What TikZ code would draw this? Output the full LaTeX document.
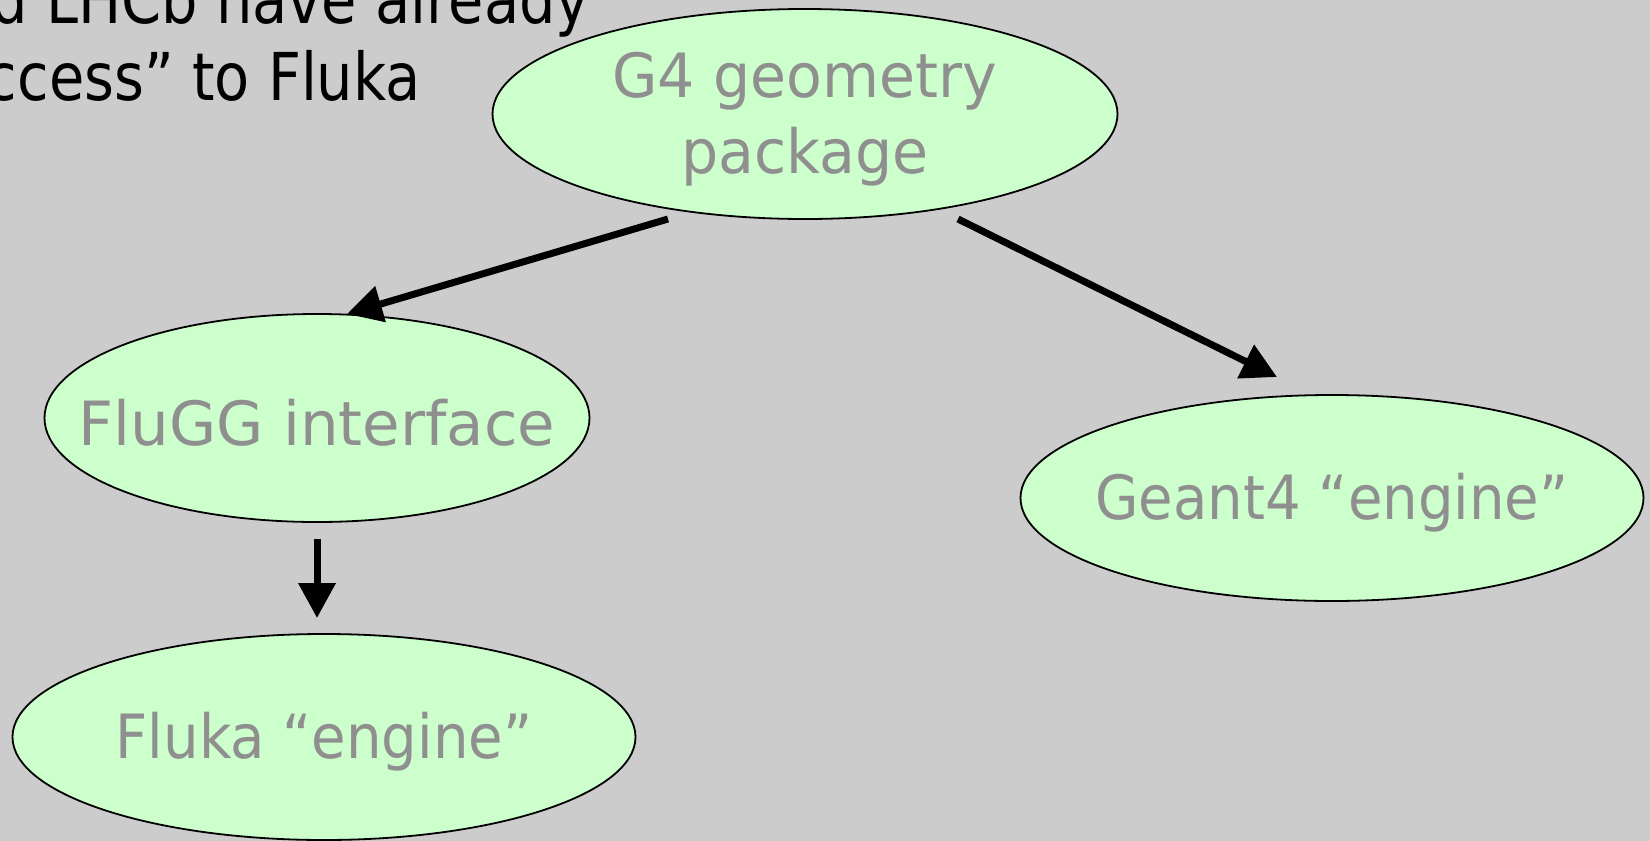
\documentclass[tikz,border=0pt]{standalone}
\usepackage{fontspec}
\setmainfont{DejaVu Sans}
\usetikzlibrary{arrows.meta,shapes.geometric}
\definecolor{bg}{HTML}{CCCCCC}
\definecolor{ell}{HTML}{CCFFCC}
\definecolor{txt}{HTML}{8F8F8F}
\begin{document}
\begin{tikzpicture}[x=1pt,y=-1pt,
  blob/.style={ellipse, draw=black, line width=1.8pt, fill=ell, inner sep=0pt},
  lbl/.style={text=txt, font=\fontsize{61}{76}\selectfont, align=center, inner sep=0pt, yshift=-5pt, transform shape},
  conn/.style={line width=7pt, -{Triangle[length=35pt,width=36pt]}},
  toptext/.style={font=\fontsize{66}{77}\selectfont, text=black, anchor=base east, inner sep=0pt, transform shape, xscale=0.87}]
\useasboundingbox (0,0) rectangle (1650,841);
\clip (0,0) rectangle (1650,841);
\fill[bg] (0,0) rectangle (1650,841);
\node[toptext] (t1) at (590,23) {and LHCb have already};
\node[toptext] (t2) at (421,100) {“access” to Fluka};
\node[blob, minimum width=625pt, minimum height=210pt] (g4) at (805,114) {};
\node[blob, minimum width=545pt, minimum height=208pt] (flugg) at (317,418) {};
\node[blob, minimum width=623pt, minimum height=206pt] (geant) at (1332,498) {};
\node[blob, minimum width=623pt, minimum height=206pt] (fluka) at (324,737) {};
\node[lbl, xscale=0.96] (g4t) at (g4.center) {G4 geometry\\package};
\node[lbl] (fluggt) at (flugg.center) {FluGG interface};
\node[lbl, xscale=0.92] (geantt) at (geant.center) {Geant4 “engine”};
\node[lbl, xscale=0.92] (flukat) at (fluka.center) {Fluka “engine”};
\coordinate (a1s) at (668,219);
\coordinate (a1e) at (347,314);
\coordinate (a2s) at (958,219);
\coordinate (a2e) at (1277,377);
\coordinate (a3s) at (317,539);
\coordinate (a3e) at (317,618);
\draw[conn] (a1s) -- (a1e);
\draw[conn] (a2s) -- (a2e);
\draw[conn] (a3s) -- (a3e);
\end{tikzpicture}
\end{document}
